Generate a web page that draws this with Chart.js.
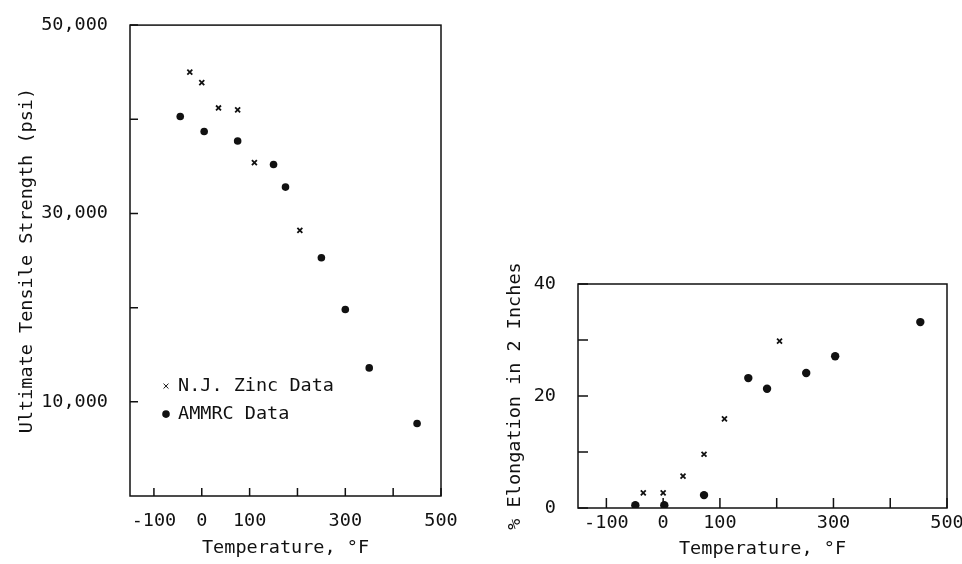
<!DOCTYPE html>
<html>
<head>
<meta charset="utf-8">
<script src="https://cdn.jsdelivr.net/npm/chart.js@4.4.1/dist/chart.umd.min.js"></script>
<style>
  body { margin: 0; background: #fff; }
  #wrap { position: relative; width: 962px; height: 564px; overflow: hidden; }
  #left { position: absolute; left: 0; top: 0; }
  #right { position: absolute; left: 480px; top: 240px; }
</style>
</head>
<body>
<div id="wrap">
  <canvas id="left" width="480" height="564"></canvas>
  <canvas id="right" width="482" height="324"></canvas>
</div>
<script>
// temperature axis, shared by both plots
const tempTicks = [-100, 0, 100, 200, 300, 400, 500];
const tempLabels = ["-100", "0", "100", "", "300", "", "500"];

// left plot : ultimate tensile strength
const utsTicks = [10000, 20000, 30000, 40000, 50000];
const utsLabels = ["10,000", "", "30,000", "", "50,000"];
const zincTemp = [-25, 0, 35, 75, 110, 205];
const zincUts = [45000, 43900, 41200, 41000, 35400, 28200];
const ammrcTemp = [-45, 5, 75, 150, 175, 250, 300, 350, 450];
const ammrcUts = [40300, 38700, 37700, 35200, 32800, 25300, 19800, 13600, 7700];

// right plot : elongation
const elongTicks = [0, 10, 20, 30, 40];
const elongLabels = ["0", "", "20", "", "40"];
const zincElongTemp = [-35, 0, 35, 72, 108, 205];
const zincElong = [2.7, 2.7, 5.7, 9.6, 15.9, 29.8];
const ammrcElongTemp = [-49, 2, 72, 150, 183, 252, 303, 453];
const ammrcElong = [0.5, 0.5, 2.3, 23.2, 21.3, 24.1, 27.1, 33.2];

const seriesNames = ["N.J. Zinc Data", "AMMRC Data"];

const FONT = "'DejaVu Sans Mono', 'Liberation Mono', monospace";
const FSIZE = 18.5;
Chart.defaults.font.family = FONT;
Chart.defaults.font.size = FSIZE;
Chart.defaults.color = "#111";

function pts(xs, ys) {
  return xs.map((x, i) => ({ x: x, y: ys[i] }));
}

function labelFor(values, labels) {
  return (v) => {
    const i = values.indexOf(v);
    return i >= 0 ? labels[i] : "";
  };
}

// box around the plot and short inward ticks
const framePlugin = {
  id: "frame",
  afterDraw(chart, args, opts) {
    const ctx = chart.ctx;
    const a = chart.chartArea;
    ctx.save();
    ctx.strokeStyle = "#111";
    ctx.lineWidth = 1.5;
    ctx.strokeRect(a.left, a.top, a.right - a.left, a.bottom - a.top);
    const len = opts.tick || 8;
    ctx.beginPath();
    chart.scales.x.ticks.forEach((t) => {
      const px = chart.scales.x.getPixelForValue(t.value);
      ctx.moveTo(px, a.bottom);
      ctx.lineTo(px, a.bottom - len);
    });
    chart.scales.y.ticks.forEach((t) => {
      const py = chart.scales.y.getPixelForValue(t.value);
      ctx.moveTo(a.left, py);
      ctx.lineTo(a.left + len, py);
    });
    ctx.stroke();
    ctx.restore();
  },
};

// legend written inside the plot, lower left
const innerLegend = {
  id: "innerLegend",
  afterDraw(chart, args, opts) {
    if (!opts.show) return;
    const ctx = chart.ctx;
    const a = chart.chartArea;
    ctx.save();
    ctx.font = FSIZE + "px " + FONT;
    ctx.textBaseline = "middle";
    chart.data.datasets.forEach((ds, i) => {
      const y = a.top + opts.y + i * opts.gap;
      const x = a.left + opts.x;
      ctx.fillStyle = "#111";
      ctx.strokeStyle = "#111";
      Chart.helpers.drawPoint(ctx, {
        pointStyle: ds.pointStyle,
        radius: ds.pointRadius,
        borderWidth: ds.borderWidth,
      }, x, y);
      ctx.fillText(ds.label, x + 12, y);
    });
    ctx.restore();
  },
};

function makeChart(el, cfg) {
  return new Chart(el, {
    type: "scatter",
    plugins: [framePlugin, innerLegend],
    data: {
      datasets: [
        {
          label: seriesNames[0],
          data: pts(cfg.zx, cfg.zy),
          pointStyle: "crossRot",
          pointRadius: 3.5,
          borderWidth: 1.8,
          borderColor: "#111",
          backgroundColor: "#111",
        },
        {
          label: seriesNames[1],
          data: pts(cfg.ax, cfg.ay),
          pointStyle: "circle",
          pointRadius: cfg.dot,
          borderWidth: 0,
          borderColor: "#111",
          backgroundColor: "#111",
        },
      ],
    },
    options: {
      responsive: false,
      animation: false,
      layout: { padding: cfg.pad },
      plugins: {
        legend: { display: false },
        tooltip: { enabled: false },
        frame: { tick: cfg.tick },
        innerLegend: cfg.legend,
      },
      scales: {
        x: {
          type: "linear",
          min: -150,
          max: 500,
          grid: { display: false },
          border: { display: false },
          afterBuildTicks: (s) => { s.ticks = tempTicks.map((v) => ({ value: v })); },
          afterFit: (s) => { s.height = cfg.xh; },
          ticks: {
            autoSkip: false,
            maxRotation: 0,
            padding: cfg.xpad,
            callback: labelFor(tempTicks, tempLabels),
          },
          title: {
            display: true,
            text: "Temperature, °F",
            padding: { top: 0, bottom: cfg.xtitle },
          },
        },
        y: {
          type: "linear",
          min: cfg.ymin,
          max: cfg.ymax,
          grid: { display: false },
          border: { display: false },
          afterBuildTicks: (s) => { s.ticks = cfg.yt.map((v) => ({ value: v })); },
          afterFit: (s) => { s.width = cfg.yw; },
          ticks: {
            autoSkip: false,
            padding: cfg.ypad,
            callback: labelFor(cfg.yt, cfg.yl),
          },
          title: {
            display: true,
            text: cfg.ytitle,
            padding: { top: 0, bottom: 0 },
          },
        },
      },
    },
  });
}

makeChart(document.getElementById("left"), {
  zx: zincTemp, zy: zincUts, ax: ammrcTemp, ay: ammrcUts,
  dot: 3.8,
  pad: { left: 16, top: 20, right: 39, bottom: 0 },
  xh: 68, yw: 114, xpad: 6, ypad: 14, xtitle: 5, tick: 8,
  ymin: 0, ymax: 50000, yt: utsTicks, yl: utsLabels,
  ytitle: "Ultimate Tensile Strength (psi)",
  legend: { show: true, x: 36, y: 361, gap: 28 },
});

makeChart(document.getElementById("right"), {
  zx: zincElongTemp, zy: zincElong, ax: ammrcElongTemp, ay: ammrcElong,
  dot: 4.2,
  pad: { left: 24, top: 44, right: 15, bottom: 0 },
  xh: 56, yw: 74, xpad: -4, ypad: 14, xtitle: 4, tick: 10,
  ymin: 0, ymax: 40, yt: elongTicks, yl: elongLabels,
  ytitle: "% Elongation in 2 Inches",
  legend: { show: false },
});
</script>
</body>
</html>
